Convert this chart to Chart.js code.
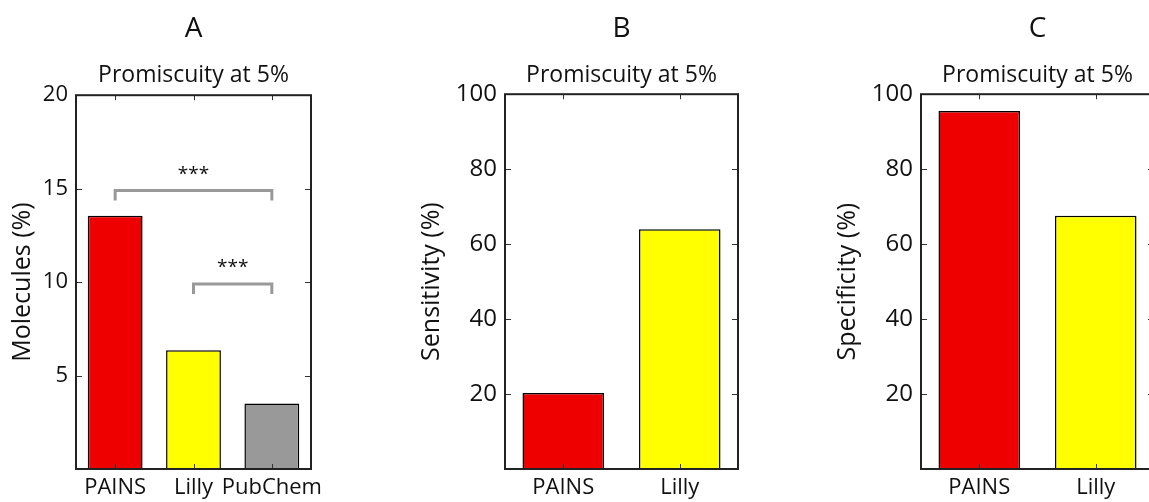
<!DOCTYPE html>
<html>
<head>
<meta charset="utf-8">
<script src="https://cdn.jsdelivr.net/npm/chart.js"></script>
<style>
  html, body { margin: 0; padding: 0; background: #fff; overflow: hidden; }
  body { width: 1149px; height: 502px; position: relative; }
  .panel { position: absolute; top: 0; }
</style>
</head>
<body>
<div class="panel" style="left:0px"><canvas id="chartA" width="340" height="502"></canvas></div>
<div class="panel" style="left:410px"><canvas id="chartB" width="350" height="502"></canvas></div>
<div class="panel" style="left:826px"><canvas id="chartC" width="350" height="502"></canvas></div>
<script>
// data
const labelsA = ['PAINS', 'Lilly', 'PubChem']
const moleculesPct = [13.55, 6.35, 3.5]
const colorsA = ['#ee0000', '#ffff00', '#999999']

const labelsBC = ['PAINS', 'Lilly']
const sensitivityPct = [20.3, 64.0]
const specificityPct = [95.5, 67.6]
const colorsBC = ['#ee0000', '#ffff00']

const subtitleText = 'Promiscuity at 5%'

// significance brackets on panel A: from category, to category, level, label
const brackets = [
  { from: 0, to: 2, level: 14.9, label: '***' },
  { from: 1, to: 2, level: 9.9, label: '***' },
]

const FONT = "'Open Sans', 'DejaVu Sans', sans-serif"
const INK = '#111'

// frame + inward ticks on all four sides (classic matplotlib look)
const framePlugin = {
  id: 'frame',
  afterDatasetsDraw(chart) {
    const { ctx, chartArea: a, scales } = chart
    const x = scales.x, y = scales.y
    ctx.save()
    ctx.strokeStyle = '#333'
    ctx.lineWidth = 1
    ctx.beginPath()
    y.ticks.forEach(t => {
      const py = Math.round(y.getPixelForValue(t.value)) + 0.5
      ctx.moveTo(a.left, py); ctx.lineTo(a.left + 6, py)
      ctx.moveTo(a.right, py); ctx.lineTo(a.right - 6, py)
    })
    x.ticks.forEach((t, i) => {
      const px = Math.round(x.getPixelForTick(i)) + 0.5
      ctx.moveTo(px, a.top); ctx.lineTo(px, a.top + 5)
      ctx.moveTo(px, a.bottom); ctx.lineTo(px, a.bottom - 5)
    })
    ctx.stroke()
    ctx.lineWidth = 2
    ctx.strokeStyle = '#222'
    ctx.strokeRect(a.left, a.top, a.right - a.left, a.bottom - a.top)
    ctx.restore()
  }
}

const bracketPlugin = {
  id: 'brackets',
  afterDatasetsDraw(chart, args, opts) {
    if (!opts.items) return
    const { ctx, scales: { x, y } } = chart
    ctx.save()
    opts.items.forEach(b => {
      const x1 = x.getPixelForTick(b.from)
      const x2 = x.getPixelForTick(b.to)
      const py = y.getPixelForValue(b.level)
      ctx.strokeStyle = '#999'
      ctx.lineWidth = 3
      ctx.lineJoin = 'miter'
      ctx.beginPath()
      ctx.moveTo(x1, py + 10)
      ctx.lineTo(x1, py)
      ctx.lineTo(x2, py)
      ctx.lineTo(x2, py + 10)
      ctx.stroke()
      ctx.fillStyle = INK
      ctx.font = '19px ' + FONT
      ctx.textAlign = 'center'
      ctx.textBaseline = 'alphabetic'
      ctx.fillText(b.label, (x1 + x2) / 2, py - 11)
    })
    ctx.restore()
  }
}

function makeChart(id, opt) {
  return new Chart(document.getElementById(id), {
    type: 'bar',
    data: {
      labels: opt.labels,
      datasets: [{
        data: opt.values,
        backgroundColor: opt.colors,
        borderColor: '#000',
        borderWidth: 1.5,
        borderSkipped: 'start',
        categoryPercentage: 1.0,
        barPercentage: 0.7,
      }]
    },
    options: {
      responsive: false,
      animation: false,
      events: [],
      layout: { padding: { left: 0, right: opt.padRight, top: 0, bottom: 0 } },
      plugins: {
        legend: { display: false },
        tooltip: { enabled: false },
        title: {
          display: true,
          text: opt.letter,
          fullSize: false,
          color: INK,
          font: { family: FONT, size: 28, weight: 'normal', lineHeight: 1.2 },
          padding: { top: 12, bottom: 0 }
        },
        subtitle: {
          display: true,
          text: subtitleText,
          fullSize: false,
          color: INK,
          font: { family: FONT, size: 23, weight: 'normal', lineHeight: 1.2 },
          padding: { top: 16, bottom: opt.subBottom }
        },
        brackets: { items: opt.brackets || null }
      },
      scales: {
        x: {
          grid: { display: false, drawTicks: false },
          border: { display: false },
          ticks: { color: INK, font: { family: FONT, size: 22 }, padding: 6, maxRotation: 0, autoSkip: false },
          afterFit: s => { s.height = 33 }
        },
        y: {
          min: 0,
          max: opt.max,
          grid: { display: false, drawTicks: false },
          border: { display: false },
          ticks: {
            stepSize: opt.step,
            color: INK,
            padding: 8,
            font: { family: FONT, size: opt.tickSize },
            callback: v => v === 0 ? '' : v
          },
          title: {
            display: true,
            text: opt.yTitle,
            color: INK,
            font: { family: FONT, size: 25, lineHeight: 1.2 },
            padding: { top: opt.titlePad, bottom: 0 }
          },
          afterFit: s => { s.width = opt.yWidth }
        }
      }
    },
    plugins: [framePlugin, bracketPlugin]
  })
}

makeChart('chartA', {
  letter: 'A', labels: labelsA, values: moleculesPct, colors: colorsA,
  max: 20, step: 5, tickSize: 22, yTitle: 'Molecules (%)',
  yWidth: 76, padRight: 29, subBottom: 6, titlePad: 8, brackets: brackets
})
makeChart('chartB', {
  letter: 'B', labels: labelsBC, values: sensitivityPct, colors: colorsBC,
  max: 100, step: 20, tickSize: 24, yTitle: 'Sensitivity (%)',
  yWidth: 95, padRight: 22, subBottom: 5, titlePad: 7
})
makeChart('chartC', {
  letter: 'C', labels: labelsBC, values: specificityPct, colors: colorsBC,
  max: 100, step: 20, tickSize: 24, yTitle: 'Specificity (%)',
  yWidth: 95, padRight: 22, subBottom: 5, titlePad: 7
})
</script>
</body>
</html>
